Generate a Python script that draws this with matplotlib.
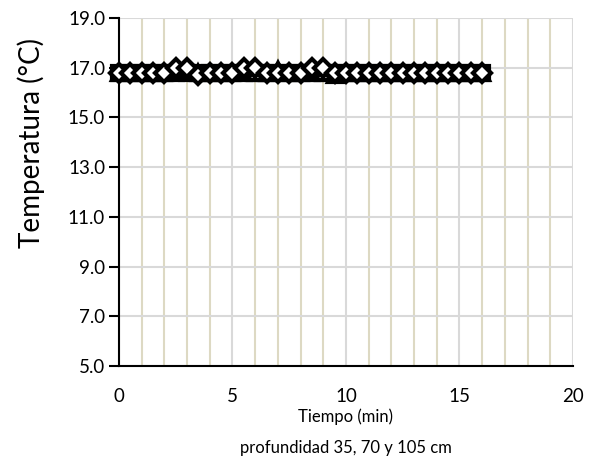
import matplotlib
matplotlib.use("Agg")
import matplotlib.pyplot as plt
from matplotlib.ticker import MultipleLocator, FormatStrFormatter

plt.rcParams['font.family'] = ['Lato', 'DejaVu Sans']

# tiempo (min), lecturas cada 0.5 min
tiempo = [0.0, 0.5, 1.0, 1.5, 2.0, 2.5, 3.0, 3.5, 4.0, 4.5, 5.0, 5.5, 6.0, 6.5,
          7.0, 7.5, 8.0, 8.5, 9.0, 9.5, 10.0, 10.5, 11.0, 11.5, 12.0, 12.5,
          13.0, 13.5, 14.0, 14.5, 15.0, 15.5, 16.0]

temp_35 = [16.8, 16.8, 16.8, 16.8, 16.8, 17.0, 17.0, 16.7, 16.8, 16.8, 16.8,
           17.0, 17.0, 16.8, 16.8, 16.8, 16.8, 17.0, 17.0, 16.8, 16.8, 16.8,
           16.8, 16.8, 16.8, 16.8, 16.8, 16.8, 16.8, 16.8, 16.8, 16.8, 16.8]
temp_70 = [16.8, 16.8, 16.8, 16.8, 16.8, 16.8, 16.8, 16.8, 16.8, 16.8, 16.8,
           16.8, 16.8, 16.8, 16.8, 16.8, 16.8, 16.8, 16.8, 16.8, 16.8, 16.8,
           16.8, 16.8, 16.8, 16.8, 16.8, 16.8, 16.8, 16.8, 16.8, 16.8, 16.8]
temp_105 = [16.8, 16.8, 16.8, 16.8, 16.8, 16.9, 16.9, 16.8, 16.8, 16.8, 16.8,
            16.9, 16.8, 16.8, 16.9, 16.8, 16.8, 16.9, 16.8, 16.7, 16.8, 16.8,
            16.8, 16.8, 16.8, 16.8, 16.8, 16.8, 16.8, 16.8, 16.8, 16.8, 16.8]

y_ticks = [5, 7, 9, 11, 13, 15, 17, 19]

fig = plt.figure(figsize=(5.95, 4.71), dpi=100)
ax = fig.add_axes([0.2, 0.223, 0.763, 0.739])

kw = dict(linestyle='none', markerfacecolor='white', markeredgecolor='black',
          markeredgewidth=3.0, zorder=3, clip_on=False)
ax.plot(tiempo, temp_70, marker='s', markersize=9.5, **kw)
ax.plot(tiempo, temp_105, marker='^', markersize=10.5, **kw)
ax.plot(tiempo, temp_35, marker='D', markersize=9, **kw)

ax.set_xlim(0, 20)
ax.set_ylim(5, 19)
ax.xaxis.set_major_locator(MultipleLocator(5))
ax.xaxis.set_minor_locator(MultipleLocator(1))
ax.set_yticks(y_ticks)
ax.yaxis.set_major_formatter(FormatStrFormatter('%.1f'))

ax.grid(which='major', axis='both', color='#d9d9d9', linewidth=1.5, zorder=0)
ax.grid(which='minor', axis='x', color='#ddd9c3', linewidth=1.5, zorder=0)
ax.set_axisbelow(True)

for s in ['top', 'right']:
    ax.spines[s].set_visible(False)
ax.spines['left'].set_linewidth(1.5)
ax.spines['bottom'].set_linewidth(1.5)
ax.tick_params(axis='y', which='major', length=7, width=1.5, labelsize=13.5, pad=3)
ax.tick_params(axis='x', which='major', length=0, labelsize=13.5, pad=16)
ax.tick_params(axis='x', which='minor', length=0)

ax.set_ylabel('Temperatura (°C)', fontsize=20)
ax.yaxis.set_label_coords(-0.163, 0.64)
ax.set_xlabel('Tiempo (min)\nprofundidad 35, 70 y 105 cm', fontsize=12,
              linespacing=2.2, labelpad=2)

plt.savefig('out.png', dpi=100)
